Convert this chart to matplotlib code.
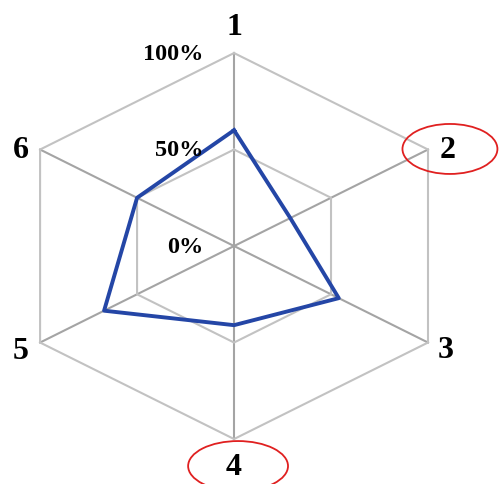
import numpy as np
import matplotlib.pyplot as plt
from matplotlib.patches import Ellipse

# Radar chart data (fraction of 100%)
axis_labels = ['1', '2', '3', '4', '5', '6']
values = [0.60, 0.29, 0.54, 0.41, 0.67, 0.50]
grid_levels = [0.0, 0.5, 1.0]
grid_labels = ['0%', '50%', '100%']
circled = ['2', '4']

# axis 1 on top, going clockwise
angles = np.pi / 2 - np.arange(len(axis_labels)) * 2 * np.pi / len(axis_labels)
ux, uy = np.cos(angles), np.sin(angles)

fig = plt.figure(figsize=(5.0, 4.85), dpi=100)
ax = fig.add_axes([0, 0, 1, 1])
ax.set_xlim(-1.045, 1.1875)
ax.set_ylim(-1.233, 1.280)
ax.axis('off')

serif = ['Liberation Serif', 'DejaVu Serif']

# spokes
for x, y in zip(ux, uy):
    ax.plot([0, x], [0, y], color='#a4a4a4', linewidth=1.5, zorder=1)

# hexagon grid
for lev in grid_levels[1:]:
    hx = np.append(ux * lev, ux[0] * lev)
    hy = np.append(uy * lev, uy[0] * lev)
    ax.plot(hx, hy, color='#c2c2c2', linewidth=1.5, zorder=1)

# percent labels along axis 1
for lev, lab in zip(grid_levels, grid_labels):
    ax.text(-0.135, lev, lab, ha='right', va='center', fontsize=17.5,
            fontweight='bold', family=serif, zorder=3)

# data line
v = np.array(values)
px = np.append(ux * v, ux[0] * v[0])
py = np.append(uy * v, uy[0] * v[0])
ax.plot(px, py, color='#2446a6', linewidth=2.8, zorder=2)

# category labels
offsets = {'1': (0, 19), '2': (14, 0), '3': (13, -5), '4': (0, -20),
           '5': (-14, -6), '6': (-14, 0)}
for lab, x, y in zip(axis_labels, ux, uy):
    dx, dy = offsets[lab]
    ax.annotate(lab, (x, y), xytext=(dx, dy), textcoords='offset points',
                ha='center', va='center', fontsize=23, fontweight='bold',
                family=serif, zorder=3)

# red ellipses highlighting categories
ell = {'2': (0.964, 0.503, 0.424, 0.259), '4': (0.018, -1.14, 0.446, 0.259)}
for lab in circled:
    cx, cy, w, h = ell[lab]
    ax.add_patch(Ellipse((cx, cy), w, h, fill=False, edgecolor='#e02020',
                         linewidth=1.3, zorder=4))

plt.savefig('out.png', dpi=100)
